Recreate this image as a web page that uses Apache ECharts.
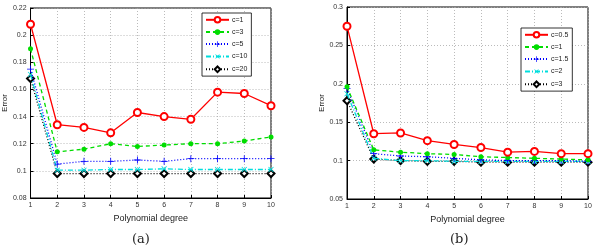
<!DOCTYPE html>
<html><head><meta charset="utf-8">
<script src="https://cdn.jsdelivr.net/npm/echarts@6/dist/echarts.min.js"></script>
<style>html,body{margin:0;padding:0;background:#fff}#c{width:595px;height:251px}</style>
</head><body><div id="c"></div>
<script>
var degrees = [1,2,3,4,5,6,7,8,9,10];
// Panel (a)
var aC1  = [0.208,0.134,0.132,0.128,0.143,0.140,0.138,0.158,0.157,0.148];
var aC3  = [0.190,0.114,0.116,0.120,0.118,0.119,0.120,0.120,0.122,0.125];
var aC5  = [0.175,0.105,0.107,0.107,0.108,0.107,0.109,0.109,0.109,0.109];
var aC10 = [0.171,0.1005,0.1005,0.101,0.101,0.1015,0.101,0.101,0.101,0.101];
var aC20 = [0.168,0.098,0.098,0.098,0.098,0.098,0.098,0.098,0.098,0.098];
var aNames = ['c=1','c=3','c=5','c=10','c=20'];
// Panel (b)
var bC05 = [0.275,0.135,0.136,0.126,0.121,0.117,0.111,0.112,0.109,0.109];
var bC1  = [0.196,0.114,0.111,0.109,0.108,0.105,0.104,0.103,0.102,0.101];
var bC15 = [0.194,0.109,0.106,0.105,0.103,0.101,0.100,0.100,0.100,0.099];
var bC2  = [0.187,0.103,0.100,0.100,0.099,0.099,0.099,0.099,0.099,0.099];
var bC3  = [0.178,0.102,0.100,0.099,0.099,0.098,0.098,0.098,0.098,0.098];
var bNames = ['c=0.5','c=1\u200b','c=1.5','c=2','c=3\u200b'];

function pairs(v){ return degrees.map(function(d,i){ return [d, v[i]]; }); }

var PLUS = 'path://M4.4,0H5.6V4.4H10V5.6H5.6V10H4.4V5.6H0V4.4H4.4Z';
var styles = [
  {color:'#ff0000', type:'solid', symbol:'emptyCircle', size:7, bw:1.2, rot:0},
  {color:'#00dd00', type:[4,3], symbol:'circle', size:5, bw:0, rot:0},
  {color:'#0000ff', type:[1,2], symbol:PLUS, size:7, bw:0, rot:0},
  {color:'#00dddd', type:[5,2,1,2], symbol:PLUS, size:7, bw:0, rot:45},
  {color:'#000000', type:[1,2], symbol:'emptyDiamond', size:7, bw:1.6, rot:0}
];

function mkSeries(name, vals, st, idx, k){
  return {
    name:name, type:'line', xAxisIndex:idx, yAxisIndex:idx, data:pairs(vals),
    symbol:st.symbol, symbolSize:st.size, symbolRotate:st.rot, showAllSymbol:true,
    lineStyle:{color:st.color, width:1.3, type:st.type},
    itemStyle:{color:st.color, borderColor:st.color, borderWidth:st.bw},
    emphasis:{disabled:true}, animation:false, z: 10-k
  };
}

var series = [];
[aC1,aC3,aC5,aC10,aC20].forEach(function(v,i){ series.push(mkSeries(aNames[i], v, styles[i], 0, i)); });
[bC05,bC1,bC15,bC2,bC3].forEach(function(v,i){ series.push(mkSeries(bNames[i], v, styles[i], 1, i)); });

var font = "'Liberation Sans', Arial, sans-serif";
function xAx(idx){
  return {type:'value', gridIndex:idx, min:1, max:10, interval:1,
    name:'Polynomial degree', nameLocation:'middle', nameGap:12,
    nameTextStyle:{fontFamily:font, fontSize:9, color:'#222'},
    axisLine:{show:true, onZero:false, lineStyle:{color:'#000', width:1}},
    axisTick:{show:true, inside:true, length:3, lineStyle:{color:'#000'}},
    axisLabel:{fontFamily:font, fontSize:7, color:'#333', margin:4},
    splitLine:{show:true, lineStyle:{color:'#aaa', type:[1,2], width:0.8}}};
}
function yAx(idx, min, max, iv, gap){
  return {type:'value', gridIndex:idx, min:min, max:max, interval:iv,
    name:'Error', nameLocation:'middle', nameGap:gap, nameRotate:90,
    nameTextStyle:{fontFamily:font, fontSize:8, color:'#222'},
    axisLine:{show:true, onZero:false, lineStyle:{color:'#000', width:1}},
    axisTick:{show:true, inside:true, length:3, lineStyle:{color:'#000'}},
    axisLabel:{fontFamily:font, fontSize:7, color:'#333', margin:4,
      formatter:function(v){ return String(parseFloat(v.toFixed(3))); }},
    splitLine:{show:true, lineStyle:{color:'#aaa', type:[1,2], width:0.8}}};
}
function legend(names, left, top){
  return {data:names, orient:'vertical', left:left, top:top, itemWidth:23, itemHeight:7,
    itemGap:5, padding:[3,4,3,3], borderColor:'#000', borderWidth:0.8, backgroundColor:'#fff',
    textStyle:{fontFamily:font, fontSize:7, color:'#222', padding:[0,0,0,-2]}, selectedMode:false};
}

var chart = echarts.init(document.getElementById('c'), null, {renderer:'canvas'});
chart.setOption({
  animation:false,
  backgroundColor:'#fff',
  grid:[
    {left:29, top:8, width:242, height:190, show:true, borderColor:'#000', borderWidth:1, backgroundColor:'transparent'},
    {left:347, top:7, width:241, height:192, show:true, borderColor:'#000', borderWidth:1, backgroundColor:'transparent'}
  ],
  xAxis:[xAx(0), xAx(1)],
  yAxis:[yAx(0,0.08,0.22,0.02,17), yAx(1,0.05,0.3,0.05,20)],
  legend:[legend(aNames, 202, 13), legend(bNames, 521, 28)],
  series:series,
  graphic:[
    {type:'text', left:132, top:233, style:{text:'(a)', font:'13px "DejaVu Serif", "Liberation Serif", serif', fill:'#222'}},
    {type:'text', left:450, top:233, style:{text:'(b)', font:'13px "DejaVu Serif", "Liberation Serif", serif', fill:'#222'}}
  ]
});
</script></body></html>
